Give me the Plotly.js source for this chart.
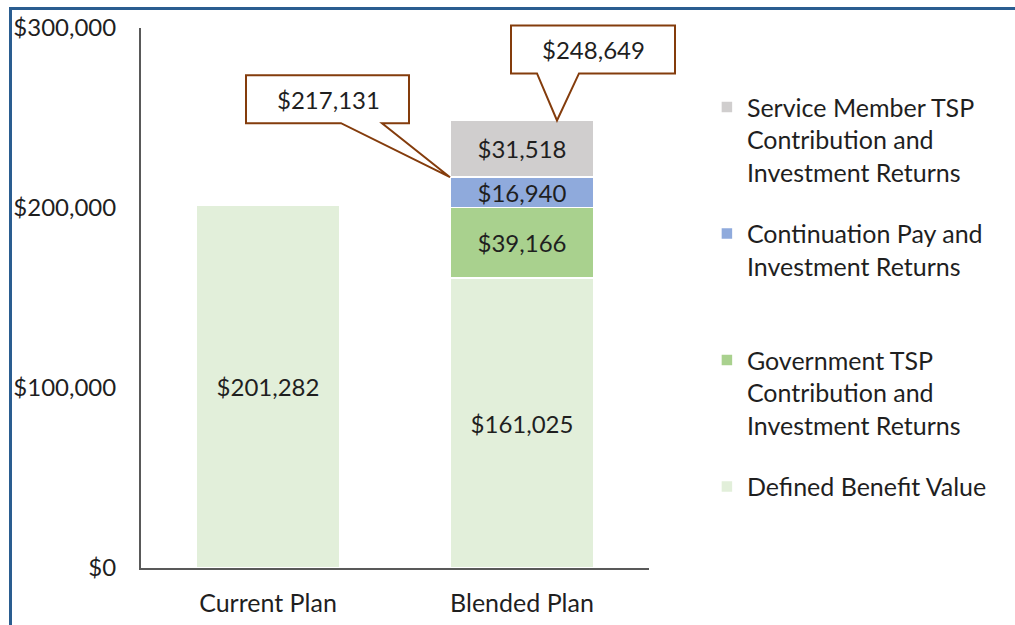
<!DOCTYPE html>
<html>
<head>
<meta charset="utf-8">
<script src="https://cdn.plot.ly/plotly-3.0.1.min.js"></script>
<style>
html,body{margin:0;padding:0;background:#fff;}
#wrap{position:relative;width:1015px;height:625px;overflow:hidden;}
#chart{position:absolute;left:0;top:0;width:1015px;height:625px;}
#frame{position:absolute;left:9px;top:7px;width:1100px;height:700px;border:3px solid #2A5D90;pointer-events:none;}
</style>
</head>
<body>
<div id="wrap"><div id="chart"></div><div id="frame"></div></div>
<script>
const categories = ['Current Plan', 'Blended Plan'];
const definedBenefit = [201282, 161025];
const governmentTSP = [null, 39166];
const continuationPay = [null, 16940];
const serviceMemberTSP = [null, 31518];
const seriesNames = [
  'Defined Benefit Value',
  'Government TSP<br>Contribution and<br>Investment Returns',
  'Continuation Pay and<br>Investment Returns<br> ',
  'Service Member TSP<br>Contribution and<br>Investment Returns'
];
const seriesColors = ['#E2EFDA', '#A9D18E', '#8FAADC', '#D0CECE'];
const yMax = 300000;
const callouts = [
  {label: '$217,131', category: 'Blended Plan', value: 217131},
  {label: '$248,649', category: 'Blended Plan', value: 248649}
];

const FONT = 'Lato, "Liberation Sans", sans-serif';
const TXT = '#1f1f1f';
const series = [definedBenefit, governmentTSP, continuationPay, serviceMemberTSP];

const traces = series.map((vals, i) => ({
  type: 'bar',
  x: categories,
  y: vals,
  name: seriesNames[i],
  legendgroup: 'g' + i,
  legendrank: 1000 - i,
  marker: {color: seriesColors[i], line: {color: '#ffffff', width: 1.5}},
  texttemplate: '$%{y:,}',
  textposition: 'inside',
  insidetextanchor: 'middle',
  constraintext: 'none',
  textangle: 0,
  textfont: {family: FONT, size: 24, color: TXT},
  hoverinfo: 'skip'
}));

// callout anchors in paper fractions derived from category index and value
function paperX(cat) { return (categories.indexOf(cat) + 0.5) / categories.length; }
const calloutPaths = [
  'M -181,54 L -276,54 L -276,102 L -113,102 L -113,54 L -140,54 L -72,0 Z',
  'M 15,47 L -11,47 L -11,95 L 153,95 L 153,47 L 57,47 L 35,0 Z'
];
const shapes = callouts.map((c, i) => ({
  type: 'path', xref: 'paper', yref: 'paper', xsizemode: 'pixel', ysizemode: 'pixel',
  xanchor: paperX(c.category), yanchor: c.value / yMax,
  path: calloutPaths[i],
  fillcolor: '#ffffff', line: {color: '#843C0C', width: 2}, layer: 'above'
}));

const labelShifts = [[-194, 78], [71, 71]];
const annotations = callouts.map((c, i) => ({
  x: c.category, y: c.value, xref: 'x', yref: 'y',
  xshift: labelShifts[i][0], yshift: labelShifts[i][1],
  text: c.label, showarrow: false, font: {family: FONT, size: 24, color: TXT}
}));

const layout = {
  width: 1015, height: 625,
  margin: {l: 141, r: 366, t: 28, b: 57, autoexpand: false},
  paper_bgcolor: 'rgba(0,0,0,0)', plot_bgcolor: 'rgba(0,0,0,0)',
  barmode: 'stack',
  bargap: 0.433,
  font: {family: FONT, size: 24, color: TXT},
  xaxis: {
    type: 'category', range: [-0.5, categories.length - 0.5], autorange: false,
    showline: true, linecolor: '#595959', linewidth: 2,
    ticks: '', showgrid: false, zeroline: false, automargin: false,
    tickfont: {family: FONT, size: 25, color: TXT}, ticklabelstandoff: 12
  },
  yaxis: {
    range: [0, yMax], autorange: false, dtick: 100000, tickprefix: '$', tickformat: ',',
    showline: true, linecolor: '#595959', linewidth: 2, ticks: '',
    showgrid: false, zeroline: false, automargin: false,
    tickfont: {family: FONT, size: 24, color: TXT}, ticklabelstandoff: 18
  },
  legend: {
    x: 1.114, xanchor: 'left', y: 0.896, yanchor: 'top',
    traceorder: 'grouped', valign: 'top', tracegroupgap: 26,
    font: {family: FONT, size: 25, color: TXT}, bgcolor: 'rgba(0,0,0,0)'
  },
  showlegend: true,
  shapes: shapes,
  annotations: annotations
};

Plotly.newPlot('chart', traces, layout, {displayModeBar: false, staticPlot: true});
</script>
</body>
</html>
